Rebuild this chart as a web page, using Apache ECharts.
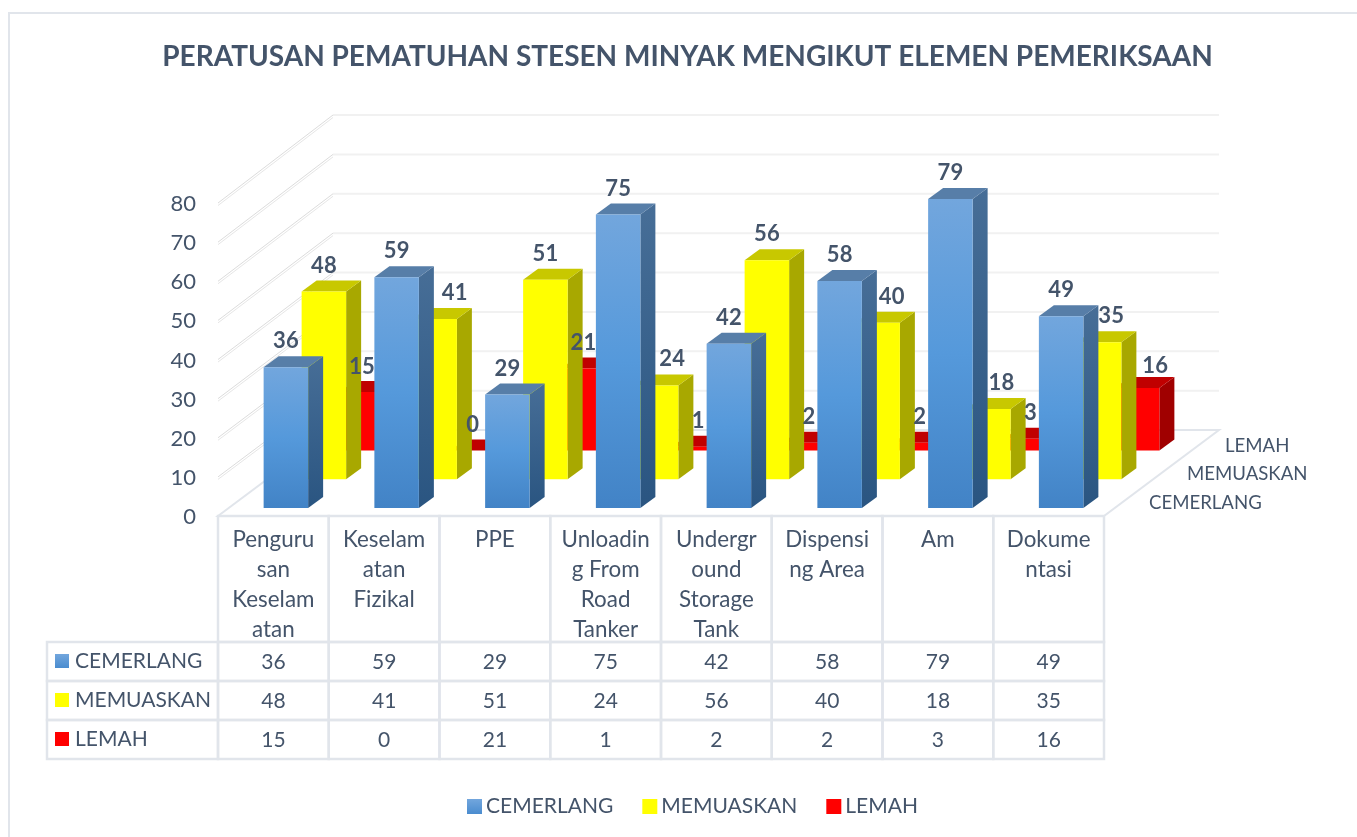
<!DOCTYPE html>
<html>
<head>
<meta charset="utf-8">
<title>Peratusan Pematuhan</title>
<style>
  html, body { margin: 0; padding: 0; background: #fff; }
  #main { width: 1357px; height: 837px; }
</style>
</head>
<body>
<div id="main"></div>
<script src="https://cdn.jsdelivr.net/npm/echarts@6/dist/echarts.min.js"></script>
<script>
var categories = ['Penguru\nsan\nKeselam\natan', 'Keselam\natan\nFizikal', 'PPE', 'Unloadin\ng From\nRoad\nTanker', 'Undergr\nound\nStorage\nTank', 'Dispensi\nng Area', 'Am', 'Dokume\nntasi']
var cemerlang = [36, 59, 29, 75, 42, 58, 79, 49]
var memuaskan = [48, 41, 51, 24, 56, 40, 18, 35]
var lemah = [15, 0, 21, 1, 2, 2, 3, 16]
var rowNames = ['CEMERLANG', 'MEMUASKAN', 'LEMAH']
var yTicks = [0, 10, 20, 30, 40, 50, 60, 70, 80]

var textColor = '#44546a'
var lineColor = '#e1e5eb'
var fontName = 'Lato'

// fake 3d: floor goes back by this much, split into three rows
var floorX = 115
var floorY = -86
var rowX = 38
var rowY = -28.7
var barW = 44.5
var barDepthX = 15
var barDepthY = -11

// labels the original pushed sideways so the bars in front don't hide them
var labelNudgeX = [
  [0, 0, 0, 0, 0, 0, 0, 0],
  [0, 20, 0, 16, 0, 14, 13, 12],
  [0, 0, 0, 4, 4, 4, 4, 18]
]
var labelNudgeY = [
  [0, 0, 0, 0, 0, 0, 0, 0],
  [0, 0, 0, 0, 0, 0, 0, 0],
  [1, 0, 0, 0, 0, 0, 0, 4]
]

var blueFront = new echarts.graphic.LinearGradient(0, 0, 0, 1, [
  { offset: 0, color: '#72a6dd' }, { offset: 0.5, color: '#5599db' }, { offset: 1, color: '#4283c6' }
])
var blueSide = new echarts.graphic.LinearGradient(0, 0, 0, 1, [
  { offset: 0, color: '#476e97' }, { offset: 1, color: '#2a5581' }
])
var legendBlue = new echarts.graphic.LinearGradient(0, 0, 0, 1, [
  { offset: 0, color: '#72a6dd' }, { offset: 1, color: '#4a8ccf' }
])
var rowStyles = [
  { front: blueFront, top: '#577ea8', side: blueSide, swatch: legendBlue },
  { front: '#ffff00', top: '#c8c800', side: '#a8a800', swatch: '#ffff00' },
  { front: '#ff0000', top: '#c00000', side: '#a00000', swatch: '#ff0000' }
]

function barCorner (api, row) {
  var cat = api.value(0)
  var base = api.coord([cat, 0])
  var top = api.coord([cat, api.value(1)])
  var dx = 12.5 + rowX * row
  var dy = -8 + rowY * row
  return { left: base[0] + dx - barW / 2, bottom: base[1] + dy, top: top[1] + dy }
}

function renderBar (row) {
  return function (params, api) {
    var b = barCorner(api, row)
    var st = rowStyles[row]
    var right = b.left + barW
    return {
      type: 'group',
      children: [
        {
          type: 'polygon',
          shape: { points: [[right, b.top], [right + barDepthX, b.top + barDepthY], [right + barDepthX, b.bottom + barDepthY], [right, b.bottom]] },
          style: { fill: st.side }
        },
        {
          type: 'polygon',
          shape: { points: [[b.left, b.top], [b.left + barDepthX, b.top + barDepthY], [right + barDepthX, b.top + barDepthY], [right, b.top]] },
          style: { fill: st.top }
        },
        {
          type: 'rect',
          shape: { x: b.left, y: b.top, width: barW, height: b.bottom - b.top },
          style: { fill: st.front }
        }
      ]
    }
  }
}

function renderLabel (row) {
  return function (params, api) {
    var b = barCorner(api, row)
    var cat = api.value(0)
    return {
      type: 'text',
      style: {
        x: b.left + barW / 2 + labelNudgeX[row][cat],
        y: b.top - 26 + labelNudgeY[row][cat],
        text: String(api.value(1)),
        fill: textColor,
        font: 'bold 22px ' + fontName,
        align: 'center',
        verticalAlign: 'middle'
      }
    }
  }
}

function renderWall (params, api) {
  var sys = params.coordSys
  var y = api.coord([0, api.value(0)])[1]
  var x0 = sys.x
  var x1 = sys.x + sys.width
  var kids = []
  if (api.value(0) === 0) {
    kids.push({
      type: 'polygon',
      shape: { points: [[x0, y], [x0 + floorX, y + floorY], [x1 + floorX, y + floorY], [x1, y]] },
      style: { fill: '#fff', stroke: lineColor, lineWidth: 2 }
    })
  } else {
    var backY = y + floorY - 2 * api.value(0) / 80
    kids.push({
      type: 'line',
      shape: { x1: x0, y1: y, x2: x0 + floorX, y2: backY },
      style: { stroke: '#dcdcdc', lineWidth: 1 }
    })
    kids.push({
      type: 'line',
      shape: { x1: x0, y1: y + 2.5, x2: x0 + floorX, y2: backY + 2.5 },
      style: { stroke: '#e6e6e6', lineWidth: 1 }
    })
    kids.push({
      type: 'line',
      shape: { x1: x0 + floorX, y1: backY, x2: x1 + floorX, y2: backY },
      style: { stroke: '#f1f1f1', lineWidth: 2 }
    })
  }
  return { type: 'group', children: kids }
}

function renderDepthName (params, api) {
  var sys = params.coordSys
  var row = api.value(0)
  return {
    type: 'text',
    style: {
      x: sys.x + sys.width + 45 + rowX * row,
      y: sys.y + sys.height - 13 + rowY * row,
      text: rowNames[row],
      fill: textColor,
      font: '18.6px ' + fontName,
      align: 'left',
      verticalAlign: 'middle'
    }
  }
}

// data table under the plot
var rowValues = [cemerlang, memuaskan, lemah]
var tableCells = []
rowValues.forEach(function (vals, r) {
  vals.forEach(function (v, c) {
    tableCells.push([c, r, v])
  })
})
var headH = 126
var rowH = 39
var nameColW = 171

function renderCell (params, api) {
  var sys = params.coordSys
  var c = api.value(0)
  var r = api.value(1)
  var band = api.size([1, 0])[0]
  var cx = api.coord([c, 0])[0]
  var top = sys.y + sys.height + headH + rowH * r
  var cellStyle = { fill: 'none', stroke: lineColor, lineWidth: 2.5 }
  var kids = [{
    type: 'rect',
    shape: { x: cx - band / 2, y: top, width: band, height: rowH },
    style: cellStyle
  }, {
    type: 'text',
    style: { x: cx, y: top + rowH / 2 + 1, text: String(api.value(2)), fill: textColor, font: '21px ' + fontName, align: 'center', verticalAlign: 'middle' }
  }]
  if (r === 0) {
    kids.push({
      type: 'rect',
      shape: { x: cx - band / 2, y: sys.y + sys.height, width: band, height: headH },
      style: cellStyle
    })
  }
  if (c === 0) {
    kids.push({
      type: 'rect',
      shape: { x: sys.x - nameColW, y: top, width: nameColW, height: rowH },
      style: cellStyle
    })
    kids.push({
      type: 'rect',
      shape: { x: sys.x - nameColW + 8, y: top + 12, width: 14, height: 14 },
      style: { fill: rowStyles[r].swatch }
    })
    kids.push({
      type: 'text',
      style: { x: sys.x - nameColW + 28, y: top + rowH / 2, text: rowNames[r], fill: textColor, font: '21px ' + fontName, align: 'left', verticalAlign: 'middle' }
    })
  }
  return { type: 'group', children: kids }
}

function barSeries (name, vals, row) {
  return {
    name: name,
    type: 'custom',
    coordinateSystem: 'cartesian2d',
    renderItem: renderBar(row),
    data: vals.map(function (v, i) { return [i, v] }),
    encode: { x: 0, y: 1 },
    itemStyle: { color: rowStyles[row].swatch },
    clip: false,
    z: 4 - row
  }
}

function labelSeries (vals, row) {
  return {
    name: 'label' + row,
    type: 'custom',
    coordinateSystem: 'cartesian2d',
    renderItem: renderLabel(row),
    data: vals.map(function (v, i) { return [i, v] }),
    encode: { x: 0, y: 1 },
    clip: false,
    silent: true,
    z: 10
  }
}

var chart = echarts.init(document.getElementById('main'))
chart.setOption({
  animation: false,
  backgroundColor: '#fff',
  textStyle: { fontFamily: fontName },
  title: {
    text: 'PERATUSAN PEMATUHAN STESEN MINYAK MENGIKUT ELEMEN PEMERIKSAAN',
    left: 682.5,
    top: 38,
    textAlign: 'center',
    textStyle: { fontFamily: fontName, fontSize: 28, fontWeight: 'bold', color: textColor }
  },
  legend: {
    left: 467,
    top: 796,
    padding: 0,
    selectedMode: false,
    icon: 'rect',
    itemWidth: 15,
    itemHeight: 15,
    itemGap: 29,
    data: rowNames,
    textStyle: { fontFamily: fontName, fontSize: 21, color: textColor, padding: [0, 0, 0, -1] }
  },
  graphic: [{
    type: 'rect',
    silent: true,
    z: -1,
    shape: { x: 9, y: 13, width: 1500, height: 1000 },
    style: { fill: 'none', stroke: lineColor, lineWidth: 2 }
  }],
  grid: { left: 218, top: 203, width: 886, height: 313 },
  xAxis: {
    type: 'category',
    data: categories,
    axisLine: { show: false },
    axisTick: { show: false },
    splitLine: { show: false },
    axisLabel: { interval: 0, margin: 9, fontFamily: fontName, fontSize: 22.4, lineHeight: 30, color: textColor, verticalAlign: 'top' }
  },
  yAxis: {
    type: 'value',
    min: 0,
    max: 80,
    interval: 10,
    axisLine: { show: false },
    axisTick: { show: false },
    splitLine: { show: false },
    axisLabel: { margin: 22, fontFamily: fontName, fontSize: 22, color: textColor, verticalAlign: 'top', lineHeight: 2 }
  },
  series: [
    {
      name: 'walls',
      type: 'custom',
      coordinateSystem: 'cartesian2d',
      renderItem: renderWall,
      data: yTicks.map(function (t) { return [t] }),
      encode: { y: 0 },
      clip: false,
      silent: true,
      z: 0
    },
    {
      name: 'depth',
      type: 'custom',
      coordinateSystem: 'cartesian2d',
      renderItem: renderDepthName,
      data: rowNames.map(function (n, i) { return [i] }),
      encode: { x: 0 },
      clip: false,
      silent: true,
      z: 1
    },
    barSeries('LEMAH', lemah, 2),
    barSeries('MEMUASKAN', memuaskan, 1),
    barSeries('CEMERLANG', cemerlang, 0),
    labelSeries(lemah, 2),
    labelSeries(memuaskan, 1),
    labelSeries(cemerlang, 0),
    {
      name: 'table',
      type: 'custom',
      coordinateSystem: 'cartesian2d',
      renderItem: renderCell,
      data: tableCells,
      encode: { x: 0 },
      clip: false,
      silent: true,
      z: 5
    }
  ]
})
</script>
</body>
</html>
